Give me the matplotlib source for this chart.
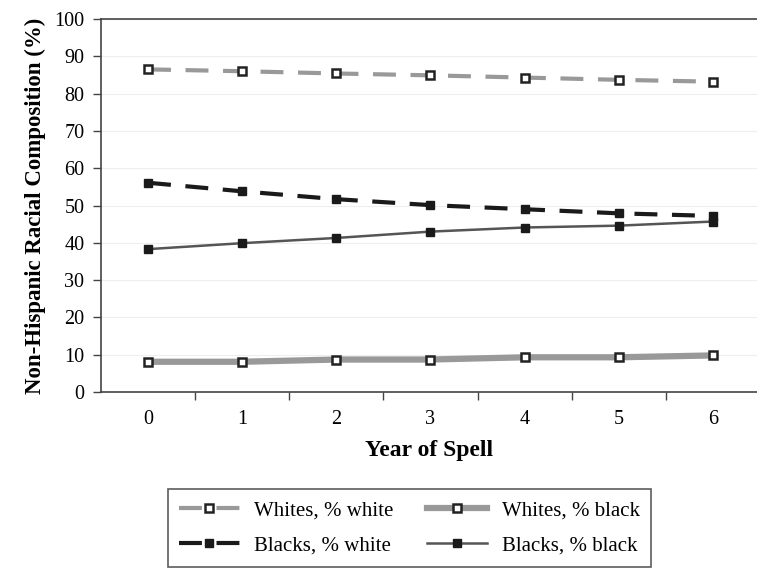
import matplotlib.pyplot as plt
import numpy as np

# Year of spell and racial composition (%)
years = [0, 1, 2, 3, 4, 5, 6]
whites_pct_white = [86.5, 86.0, 85.4, 84.9, 84.3, 83.7, 83.2]
whites_pct_black = [8.1, 8.1, 8.7, 8.7, 9.3, 9.3, 9.8]
blacks_pct_white = [56.1, 53.8, 51.7, 50.1, 49.0, 47.9, 47.2]
blacks_pct_black = [38.3, 39.9, 41.3, 43.0, 44.1, 44.6, 45.7]

plt.rcParams['font.family'] = ['Liberation Serif', 'DejaVu Serif']

fig = plt.figure(figsize=(7.57, 5.68), dpi=100)
ax = fig.add_axes([0.1334, 0.3099, 0.8666, 0.6566])

ax.plot(years, whites_pct_white, color='#999999', lw=3, dashes=(5.5, 3.5),
        marker='s', ms=6, mfc='white', mec='#222222', mew=1.8,
        label='Whites, % white', zorder=3)
ax.plot(years, whites_pct_black, color='#999999', lw=4.5,
        marker='s', ms=6, mfc='white', mec='#222222', mew=1.8,
        label='Whites, % black', zorder=3)
ax.plot(years, blacks_pct_white, color='#1a1a1a', lw=3, dashes=(5.5, 3.5),
        marker='s', ms=6, mfc='#1a1a1a', mec='#1a1a1a',
        label='Blacks, % white', zorder=3)
ax.plot(years, blacks_pct_black, color='#555555', lw=1.8,
        marker='s', ms=6, mfc='#1a1a1a', mec='#1a1a1a',
        label='Blacks, % black', zorder=3)

ax.set_xlim(-0.5, 6.468)
ax.set_ylim(0, 100)
ax.set_yticks(np.arange(0, 101, 10))
ax.set_xticks(years)
ax.set_xticks(np.arange(0.5, 6, 1), minor=True)
ax.tick_params(axis='x', which='major', length=0, labelsize=14.5, pad=13)
ax.tick_params(axis='x', which='minor', length=6, width=1, color='#444444')
ax.tick_params(axis='y', length=6, width=1, color='#444444', labelsize=14.5, pad=6)

ax.grid(axis='y', color='#eeeeee', lw=0.8)
ax.set_axisbelow(True)
for s in ['left', 'bottom', 'top']:
    ax.spines[s].set_color('#444444')
    ax.spines[s].set_linewidth(1.2)
ax.spines['right'].set_visible(False)

ax.set_xlabel('Year of Spell', fontsize=17, fontweight='bold', labelpad=8)
ax.set_ylabel('Non-Hispanic Racial Composition (%)', fontsize=16.5,
              fontweight='bold', labelpad=6)

h, l = ax.get_legend_handles_labels()
order = [0, 2, 1, 3]
leg = fig.legend([h[i] for i in order], [l[i] for i in order], ncol=2,
                 loc='center', bbox_to_anchor=(0.541, 0.0704), fontsize=15,
                 frameon=True, fancybox=False, edgecolor='#333333',
                 handlelength=2.9, handletextpad=0.7, columnspacing=1.6,
                 labelspacing=0.72, borderpad=0.55)
leg.get_frame().set_linewidth(1.2)

fig.savefig('out.png', dpi=100)
